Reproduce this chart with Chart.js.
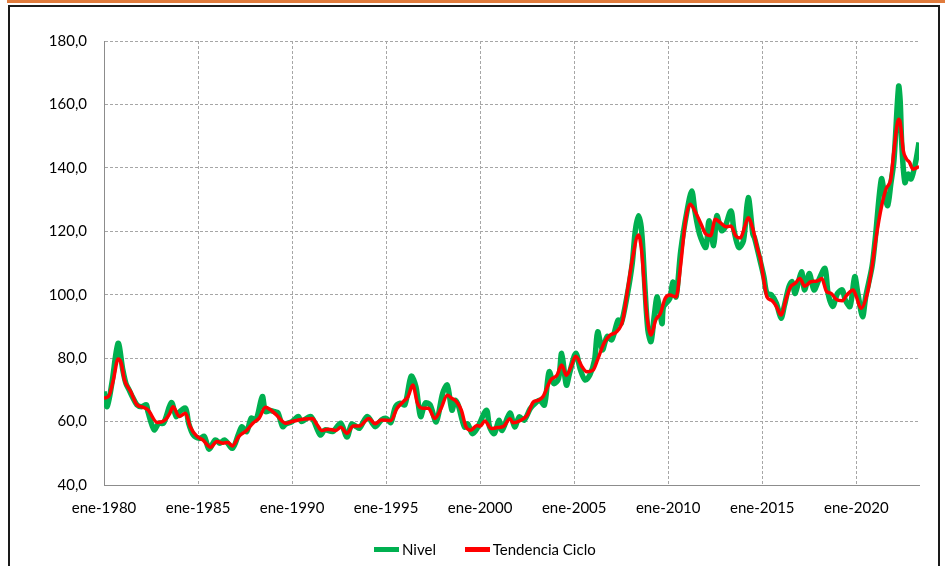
<!DOCTYPE html>
<html>
<head>
<meta charset="utf-8">
<script src="https://cdn.jsdelivr.net/npm/chart.js@4.4.0/dist/chart.umd.min.js"></script>
<style>
  body { margin: 0; background: #fff; font-family: Lato, "Open Sans", sans-serif; }
  #wrap { position: relative; width: 945px; height: 566px; overflow: hidden; }
  #barra { position: absolute; left: 7px; top: 0; width: 938px; height: 3px; background: #E07B3C; }
  #marco { position: absolute; left: 8px; top: 5px; width: 932px; height: 600px; border: 2px solid #1a1a1a; border-bottom: none; box-sizing: border-box; }
  canvas { position: absolute; left: 0; top: 0; }
  #leyenda { position: absolute; top: 538px; left: 374px; font-size: 15px; color: #000; white-space: nowrap; }
  #leyenda span { display: inline-block; vertical-align: middle; }
  .linea { width: 25px; height: 5px; margin-right: 3px; }
</style>
</head>
<body>
<div id="wrap">
  <div id="barra"></div>
  <div id="marco"></div>
  <canvas id="grafico" width="945" height="566"></canvas>
  <div id="leyenda">
    <span class="linea" style="background:#00B050"></span><span>Nivel</span>
    <span class="linea" style="background:#FF0000;margin-left:25px"></span><span>Tendencia Ciclo</span>
  </div>
</div>
<script>
//Etiquetas del eje X y eje Y
const etiquetasX = ["ene-1980", "ene-1985", "ene-1990", "ene-1995", "ene-2000", "ene-2005", "ene-2010", "ene-2015", "ene-2020"];
const ultimoPeriodo = "2023-05";

//Serie Nivel (lecturas del grafico)
const fechasNivel = [
  "1980-01","1980-03","1980-06","1980-10","1981-01","1981-03","1981-05","1981-07","1981-10",
  "1982-01","1982-04","1982-05","1982-09","1982-12","1983-03","1983-08","1983-11",
  "1984-01","1984-05","1984-07","1984-10","1985-02","1985-05","1985-08","1985-12",
  "1986-03","1986-06","1986-11","1987-03","1987-05","1987-08","1987-11",
  "1988-02","1988-06","1988-08","1988-11","1989-02","1989-04","1989-07","1989-09",
  "1990-01","1990-05","1990-07","1991-01","1991-07","1991-10",
  "1992-03","1992-08","1992-12","1993-03","1993-06","1993-08",
  "1994-01","1994-06","1994-10","1995-01","1995-04","1995-07","1995-10",
  "1996-01","1996-05","1996-08","1996-11","1997-02","1997-05","1997-09",
  "1998-01","1998-04","1998-07","1998-09","1998-11","1999-03","1999-05","1999-08","1999-11",
  "2000-05","2000-07","2000-10","2001-01","2001-03","2001-08","2001-11",
  "2002-02","2002-05","2002-09","2002-12","2003-03","2003-06","2003-09","2003-12",
  "2004-03","2004-05","2004-08","2004-10","2005-02","2005-05","2005-08","2005-11",
  "2006-02","2006-04","2006-07","2006-10","2007-01","2007-05","2007-07","2007-11",
  "2008-02","2008-04","2008-06","2008-08","2008-10","2008-12",
  "2009-02","2009-04","2009-06","2009-09","2009-10",
  "2010-02","2010-04","2010-06","2010-09","2011-01","2011-04","2011-06","2011-09",
  "2012-01","2012-03","2012-06","2012-08","2012-11","2013-01","2013-05","2013-07","2013-10",
  "2014-01","2014-04","2014-07","2014-08","2014-11","2015-02","2015-04","2015-07","2015-10",
  "2016-01","2016-03","2016-06","2016-08","2016-10","2017-02","2017-04","2017-07","2017-10",
  "2018-01","2018-05","2018-07","2018-10","2019-01","2019-04","2019-06","2019-09","2019-12",
  "2020-02","2020-05","2020-07","2020-11","2021-01","2021-05","2021-07","2021-09","2021-11",
  "2022-01","2022-04","2022-05","2022-06","2022-08","2022-10","2022-12","2023-03","2023-05"
];
const valoresNivel = [
  69.5, 64.7, 72.0, 84.7, 76.3, 72.0, 70.0, 67.9, 65.3,
  64.7, 65.3, 63.2, 57.4, 59.5, 59.5, 66.0, 61.6,
  63.0, 64.2, 59.5, 55.8, 54.7, 55.3, 51.3, 54.2,
  53.2, 54.2, 51.6, 56.3, 58.4, 56.8, 61.1,
  60.5, 67.9, 63.2, 63.5, 63.1, 62.8, 58.4, 59.2,
  60.0, 61.6, 60.0, 61.6, 55.8, 57.4,
  56.9, 59.5, 55.1, 59.2, 58.4, 57.9,
  61.6, 58.4, 60.5, 61.0, 59.7, 64.7, 65.8,
  65.3, 74.3, 71.0, 61.6, 65.8, 65.3, 59.9,
  68.8, 71.5, 63.6, 66.7, 65.2, 58.3, 59.3, 56.2, 57.8,
  63.6, 58.3, 56.2, 60.4, 57.2, 62.7, 58.3,
  61.5, 60.4, 64.1, 65.7, 66.7, 65.2, 75.7, 72.0,
  73.5, 81.5, 71.5, 75.2, 81.5, 76.3, 73.1, 74.7,
  79.4, 88.3, 82.6, 86.8, 85.8, 92.0, 91.0, 100.3,
  109.7, 120.2, 124.9, 120.2, 103.5, 88.9,
  85.2, 93.0, 99.3, 90.9, 96.2,
  98.8, 104.0, 99.3, 113.9, 126.4, 132.7, 126.4, 119.1,
  114.9, 123.3, 115.5, 124.9, 120.2, 121.0, 126.4, 120.2, 114.9,
  117.0, 130.6, 119.1, 118.0, 112.0, 105.7, 100.4, 99.9, 97.3,
  92.6, 96.3, 102.5, 104.1, 100.4, 107.2, 101.5, 106.7, 101.5,
  104.6, 108.3, 100.4, 96.3, 100.4, 101.5, 98.3, 96.3, 105.7,
  100.4, 93.1, 99.4, 108.8, 117.2, 136.5, 131.8, 128.1, 134.9,
  142.2, 165.7, 161.0, 147.5, 135.4, 138.0, 136.5, 142.2, 148.0
];

//Serie Tendencia Ciclo
const fechasTendencia = [
  "1980-01","1980-04","1980-07","1980-10","1980-12","1981-02","1981-06","1981-10",
  "1982-02","1982-05","1982-11","1983-04","1983-07","1983-09","1984-01","1984-05","1984-08","1984-12",
  "1985-04","1985-09","1986-01","1986-05","1986-08","1986-11","1987-03","1987-08","1987-12",
  "1988-04","1988-08","1988-11","1989-03","1989-09","1990-01","1990-05","1990-09",
  "1991-02","1991-05","1991-08","1991-12","1992-05","1992-08","1992-12","1993-04","1993-08",
  "1994-02","1994-06","1994-10","1995-04","1995-08","1995-12","1996-03","1996-06","1996-09","1996-12",
  "1997-04","1997-08","1997-12","1998-04","1998-07","1998-10","1999-01","1999-04","1999-07","1999-11",
  "2000-01","2000-04","2000-08","2000-12","2001-04","2001-08","2001-10","2002-03","2002-07","2002-11",
  "2003-02","2003-05","2003-10","2004-02","2004-05","2004-08","2004-11","2005-02","2005-06","2005-09",
  "2006-01","2006-04","2006-08","2006-12","2007-04","2007-08","2007-11",
  "2008-02","2008-06","2008-08","2008-11","2009-02","2009-05","2009-08","2009-11",
  "2010-02","2010-06","2010-09","2010-12","2011-03","2011-06","2011-10",
  "2012-01","2012-04","2012-07","2012-10","2013-02","2013-05","2013-08","2013-11",
  "2014-02","2014-04","2014-07","2014-10","2014-12","2015-02","2015-04","2015-07","2015-10",
  "2016-01","2016-04","2016-07","2016-10","2017-01","2017-04","2017-08","2017-12",
  "2018-03","2018-06","2018-09","2018-12","2019-04","2019-07","2019-11",
  "2020-01","2020-04","2020-08","2020-11","2021-02","2021-05","2021-08","2021-11",
  "2022-01","2022-04","2022-05","2022-07","2022-09","2022-11","2023-01","2023-05"
];
const valoresTendencia = [
  67.4, 68.0, 73.2, 79.7, 78.4, 73.2, 69.5, 65.3,
  64.5, 63.7, 59.7, 60.5, 62.6, 64.7, 61.6, 62.6, 58.4, 55.5,
  54.2, 51.9, 53.7, 53.2, 53.4, 52.3, 55.3, 57.2, 59.5,
  61.1, 64.5, 63.8, 62.1, 59.5, 60.0, 60.5, 60.8,
  61.0, 59.0, 57.2, 57.6, 57.2, 58.2, 56.3, 58.6, 58.6,
  61.0, 59.3, 60.5, 60.3, 64.2, 66.3, 67.9, 71.5, 65.8, 64.2,
  64.2, 61.0, 64.1, 68.3, 67.3, 66.2, 63.6, 58.3, 57.3, 58.8,
  58.5, 60.2, 57.8, 58.1, 58.5, 60.9, 59.6, 60.4, 62.0, 66.2,
  66.7, 67.8, 73.1, 74.6, 77.8, 74.6, 77.3, 80.6, 77.3, 75.7,
  76.2, 79.6, 84.7, 87.3, 88.3, 92.0, 101.4,
  110.8, 118.8, 113.9, 95.1, 87.3, 92.0, 94.1, 98.8,
  99.9, 99.3, 109.7, 123.3, 128.5, 126.4, 122.2,
  119.1, 118.6, 123.8, 122.8, 121.4, 121.7, 118.6, 117.9,
  121.7, 124.3, 120.7, 114.4, 110.8, 104.5, 99.3, 98.2, 96.3,
  93.6, 98.3, 102.5, 103.6, 105.1, 102.7, 104.1, 104.3,
  105.1, 101.0, 100.4, 98.6, 98.1, 99.9, 101.5,
  99.4, 95.7, 100.4, 108.8, 119.2, 127.6, 133.4, 136.5,
  145.4, 155.3, 154.3, 145.4, 142.8, 141.7, 139.6, 140.4
];

//Utilidades
function periodoANum(p) {
  const [a, m] = p.split("-").map(Number);
  return a + (m - 1) / 12;
}
function etiquetaANum(e) { return Number(e.split("-")[1]); }
function armarPuntos(fechas, valores) { return fechas.map((f, i) => ({ x: periodoANum(f), y: valores[i] })); }
function fmtComa(v) { return v.toFixed(1).replace(".", ","); }

const fuente = { family: "Lato, 'Open Sans', sans-serif", size: 15 };
const colorGrilla = "#a6a6a6";

new Chart(document.getElementById("grafico"), {
  type: "line",
  data: {
    datasets: [
      { label: "Tendencia Ciclo", data: armarPuntos(fechasTendencia, valoresTendencia),
        borderColor: "#FF0000", borderWidth: 3.5, pointRadius: 0, cubicInterpolationMode: "monotone" },
      { label: "Nivel", data: armarPuntos(fechasNivel, valoresNivel),
        borderColor: "#00B050", borderWidth: 5.5, pointRadius: 0, tension: 0.3 }
    ]
  },
  options: {
    responsive: false, animation: false,
    layout: { padding: { left: 40, top: 41, right: 26, bottom: 41 } },
    plugins: { legend: { display: false }, tooltip: { enabled: false } },
    scales: {
      x: {
        type: "linear", min: 1980, max: periodoANum(ultimoPeriodo),
        afterBuildTicks: s => { s.ticks = etiquetasX.map(e => ({ value: etiquetaANum(e) })); },
        afterFit: s => { s.height = 40; },
        ticks: { font: fuente, color: "#000", padding: 14, maxRotation: 0, autoSkip: false,
                 callback: v => "ene-" + v },
        grid: { color: colorGrilla, lineWidth: 1, drawTicks: false },
        border: { display: true, color: "#8c8c8c", width: 1, dash: [3, 2] }
      },
      y: {
        min: 40, max: 180,
        afterFit: s => { s.width = 64; },
        ticks: { stepSize: 20, font: fuente, color: "#000", padding: 17, callback: v => fmtComa(v) },
        grid: { color: colorGrilla, lineWidth: 1, drawTicks: false },
        border: { display: true, color: "#8c8c8c", width: 1, dash: [3, 2] }
      }
    }
  }
});
</script>
</body>
</html>
